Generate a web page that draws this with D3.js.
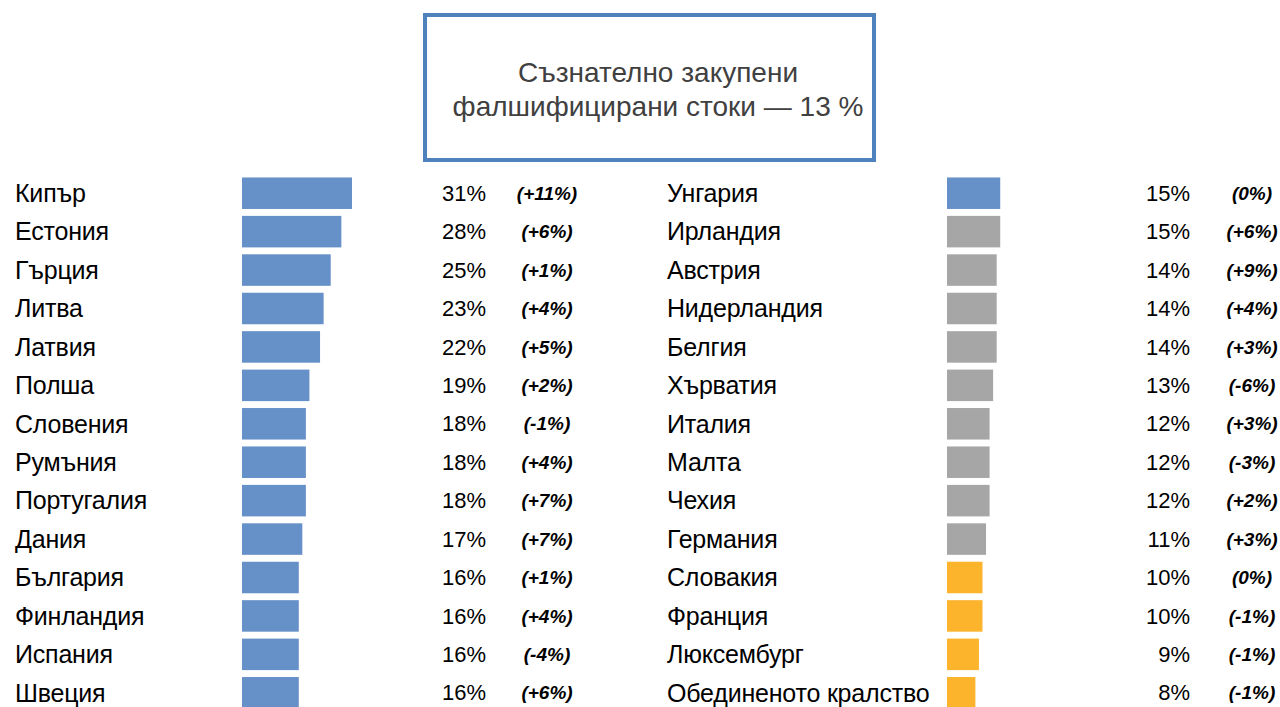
<!DOCTYPE html>
<html>
<head>
<meta charset="utf-8">
<script src="https://cdn.jsdelivr.net/npm/d3@7"></script>
<style>
  body { margin: 0; background: #fff; }
  svg { display: block; }
</style>
</head>
<body>
<div id="chart"></div>
<script>
const countries = ["Кипър", "Естония", "Гърция", "Литва", "Латвия", "Полша", "Словения", "Румъния",
  "Португалия", "Дания", "България", "Финландия", "Испания", "Швеция",
  "Унгария", "Ирландия", "Австрия", "Нидерландия", "Белгия", "Хърватия", "Италия", "Малта",
  "Чехия", "Германия", "Словакия", "Франция", "Люксембург", "Обединеното кралство"];
const values = [31, 28, 25, 23, 22, 19, 18, 18, 18, 17, 16, 16, 16, 16,
  15, 15, 14, 14, 14, 13, 12, 12, 12, 11, 10, 10, 9, 8];
const changes = ["(+11%)", "(+6%)", "(+1%)", "(+4%)", "(+5%)", "(+2%)", "(-1%)", "(+4%)", "(+7%)", "(+7%)",
  "(+1%)", "(+4%)", "(-4%)", "(+6%)",
  "(0%)", "(+6%)", "(+9%)", "(+4%)", "(+3%)", "(-6%)", "(+3%)", "(-3%)", "(+2%)", "(+3%)",
  "(0%)", "(-1%)", "(-1%)", "(-1%)"];
// above average / around average / below average
const groups = ["high", "high", "high", "high", "high", "high", "high", "high", "high", "high", "high", "high", "high", "high",
  "high", "mid", "mid", "mid", "mid", "mid", "mid", "mid", "mid", "mid",
  "low", "low", "low", "low"];
const titleLines = ["Съзнателно закупени", "фалшифицирани стоки — 13 %"];

const width = 1280, height = 707;
const color = d3.scaleOrdinal()
  .domain(["high", "mid", "low"])
  .range(["#6590c8", "#a6a6a6", "#fbb42c"]);

const data = countries.map((c, i) => ({name: c, value: values[i], change: changes[i], group: groups[i]}));
const perCol = 14;
const columns = [data.slice(0, perCol), data.slice(perCol)];

const svg = d3.select("#chart").append("svg")
  .attr("width", width)
  .attr("height", height);

// title box
svg.append("rect")
  .attr("x", 425).attr("y", 15)
  .attr("width", 449).attr("height", 145)
  .attr("fill", "none")
  .attr("stroke", "#4f81bd")
  .attr("stroke-width", 4);

svg.append("g")
  .selectAll("text")
  .data(titleLines)
  .join("text")
  .attr("x", 658)
  .attr("y", (d, i) => 82 + i * 34)
  .attr("text-anchor", "middle")
  .attr("font-family", "Liberation Sans, Arial, sans-serif")
  .attr("font-size", 28)
  .attr("fill", "#404040")
  .text(d => d);

const y = d3.scaleBand()
  .domain(d3.range(perCol))
  .range([174, 712])
  .paddingInner(0.18)
  .paddingOuter(0.09);

const x = d3.scaleLinear().domain([0, 31]).range([0, 110]);

const layout = [
  {label: 15, bar: 242, value: 486, change: 547},
  {label: 667, bar: 947, value: 1190, change: 1252}
];

columns.forEach((col, ci) => {
  const L = layout[ci];
  const g = svg.append("g");

  const row = g.selectAll("g")
    .data(col)
    .join("g")
    .attr("transform", (d, i) => `translate(0,${y(i)})`);

  row.append("rect")
    .attr("x", L.bar)
    .attr("width", d => x(d.value))
    .attr("height", y.bandwidth())
    .attr("fill", d => color(d.group));

  const mid = y.bandwidth() / 2;

  row.append("text")
    .attr("x", L.label)
    .attr("y", mid)
    .attr("dy", "0.35em")
    .attr("font-family", "Liberation Sans Narrow, Arial Narrow, Liberation Sans, sans-serif")
    .attr("font-size", 25)
    .attr("letter-spacing", -0.2)
    .attr("fill", "#000")
    .text(d => d.name);

  row.append("text")
    .attr("x", L.value)
    .attr("y", mid)
    .attr("dy", "0.35em")
    .attr("text-anchor", "end")
    .attr("font-family", "Liberation Sans, Arial, sans-serif")
    .attr("font-size", 22)
    .attr("fill", "#000")
    .text(d => d.value + "%");

  row.append("text")
    .attr("x", L.change)
    .attr("y", mid)
    .attr("dy", "0.35em")
    .attr("text-anchor", "middle")
    .attr("font-family", "Liberation Sans, Arial, sans-serif")
    .attr("font-size", 19)
    .attr("font-weight", "bold")
    .attr("font-style", "italic")
    .attr("fill", "#000")
    .text(d => d.change);
});
</script>
</body>
</html>
